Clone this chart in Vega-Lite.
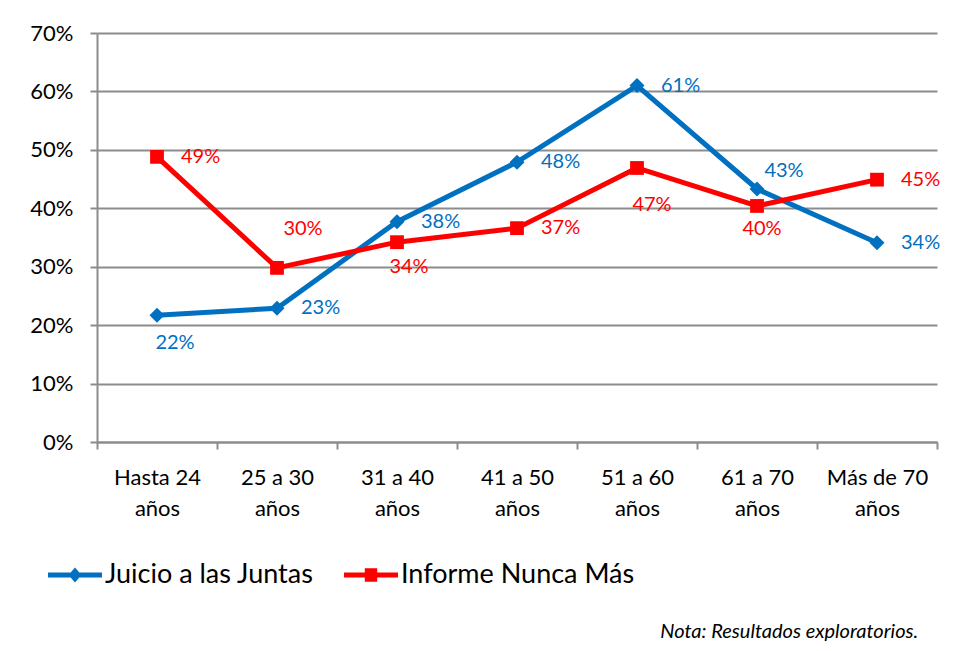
{
  "$schema": "https://vega.github.io/schema/vega-lite/v6.json",
  "width": 840,
  "height": 409,
  "autosize": "none",
  "padding": {"left": 97, "top": 33, "right": 22, "bottom": 209},
  "background": "white",
  "config": {
    "font": "Lato",
    "view": {"stroke": null},
    "legend": {
      "orient": "none",
      "legendX": -49,
      "legendY": 515,
      "direction": "horizontal",
      "labelFontSize": 27,
      "labelColor": "black",
      "labelFont": "Lato",
      "labelLimit": 500,
      "symbolSize": 2916,
      "symbolStrokeWidth": 0,
      "columnPadding": 30,
      "labelOffset": 3,
      "title": null
    }
  },
  "title": {
    "text": "Nota: Resultados exploratorios.",
    "orient": "bottom",
    "anchor": "end",
    "fontSize": 20,
    "fontStyle": "italic",
    "fontWeight": "normal",
    "color": "black",
    "offset": 34,
    "dx": -22
  },
  "data": {
    "values": [
      {"grupo": "Hasta 24 años", "serie": "Juicio a las Juntas", "valor": 0.217},
      {"grupo": "25 a 30 años", "serie": "Juicio a las Juntas", "valor": 0.229},
      {"grupo": "31 a 40 años", "serie": "Juicio a las Juntas", "valor": 0.377},
      {"grupo": "41 a 50 años", "serie": "Juicio a las Juntas", "valor": 0.479},
      {"grupo": "51 a 60 años", "serie": "Juicio a las Juntas", "valor": 0.61},
      {"grupo": "61 a 70 años", "serie": "Juicio a las Juntas", "valor": 0.433},
      {"grupo": "Más de 70 años", "serie": "Juicio a las Juntas", "valor": 0.341},
      {"grupo": "Hasta 24 años", "serie": "Informe Nunca Más", "valor": 0.488},
      {"grupo": "25 a 30 años", "serie": "Informe Nunca Más", "valor": 0.298},
      {"grupo": "31 a 40 años", "serie": "Informe Nunca Más", "valor": 0.342},
      {"grupo": "41 a 50 años", "serie": "Informe Nunca Más", "valor": 0.366},
      {"grupo": "51 a 60 años", "serie": "Informe Nunca Más", "valor": 0.469},
      {"grupo": "61 a 70 años", "serie": "Informe Nunca Más", "valor": 0.404},
      {"grupo": "Más de 70 años", "serie": "Informe Nunca Más", "valor": 0.449}
    ]
  },
  "encoding": {
    "x": {
      "field": "grupo",
      "type": "ordinal",
      "sort": ["Hasta 24 años", "25 a 30 años", "31 a 40 años", "41 a 50 años", "51 a 60 años", "61 a 70 años", "Más de 70 años"],
      "scale": {"type": "band", "paddingInner": 0, "paddingOuter": 0},
      "axis": {
        "title": null,
        "labelAngle": 0,
        "tickBand": "extent",
        "domainColor": "#8c8c8c",
        "domainWidth": 2,
        "tickColor": "#8c8c8c",
        "tickWidth": 2,
        "tickSize": 7,
        "labelFontSize": 22,
        "labelColor": "black",
        "labelPadding": 18,
        "labelLineHeight": 31,
        "labelExpr": "indexof(datum.label, ' ') < 0 ? '' : [slice(datum.label, 0, lastindexof(datum.label, ' ')), 'años']",
        "grid": false
      }
    },
    "y": {
      "field": "valor",
      "type": "quantitative",
      "scale": {"domain": [0, 0.7]},
      "axis": {
        "title": null,
        "format": ".0%",
        "values": [0, 0.1, 0.2, 0.3, 0.4, 0.5, 0.6, 0.7],
        "grid": true,
        "gridColor": "#8c8c8c",
        "gridWidth": 2,
        "domainColor": "#8c8c8c",
        "domainWidth": 2,
        "tickColor": "#8c8c8c",
        "tickWidth": 2,
        "tickSize": 7,
        "labelFontSize": 22,
        "labelColor": "black",
        "labelPadding": 17
      }
    }
  },
  "layer": [
    {
      "transform": [{"filter": "datum.serie == 'Juicio a las Juntas'"}],
      "mark": {"type": "line", "strokeWidth": 5, "color": "#0070C0"}
    },
    {
      "transform": [{"filter": "datum.serie == 'Informe Nunca Más'"}],
      "mark": {"type": "line", "strokeWidth": 5, "color": "#FF0000"}
    },
    {
      "transform": [{"filter": "datum.serie == 'Juicio a las Juntas'"}],
      "mark": {"type": "point", "shape": "diamond", "filled": true, "size": 225, "color": "#0070C0", "opacity": 1}
    },
    {
      "transform": [{"filter": "datum.serie == 'Informe Nunca Más'"}],
      "mark": {"type": "point", "shape": "square", "filled": true, "size": 190, "color": "#FF0000", "opacity": 1}
    },
    {
      "transform": [{"filter": "false"}],
      "mark": {"type": "point", "filled": true, "opacity": 1, "strokeWidth": 0},
      "encoding": {
        "color": {
          "field": "serie",
          "type": "nominal",
          "scale": {"domain": ["Juicio a las Juntas", "Informe Nunca Más"], "range": ["#0070C0", "#FF0000"]}
        },
        "shape": {
          "field": "serie",
          "type": "nominal",
          "scale": {
            "domain": ["Juicio a las Juntas", "Informe Nunca Más"],
            "range": [
              "M-1,-0.095L1,-0.095L1,0.095L-1,0.095Z M0,-0.28L0.24,0L0,0.28L-0.24,0Z",
              "M-1,-0.095L1,-0.095L1,0.095L-1,0.095Z M-0.23,-0.25L0.23,-0.25L0.23,0.25L-0.23,0.25Z"
            ]
          }
        }
      }
    },
    {
      "transform": [{"filter": "(datum.serie == 'Juicio a las Juntas' && indexof(['25 a 30 años','31 a 40 años','41 a 50 años','51 a 60 años','Más de 70 años'], datum.grupo) >= 0) || (datum.serie == 'Informe Nunca Más' && indexof(['Hasta 24 años','41 a 50 años','Más de 70 años'], datum.grupo) >= 0)"}],
      "mark": {"type": "text", "align": "left", "baseline": "middle", "dx": 24, "fontSize": 20},
      "encoding": {
        "text": {"field": "valor", "type": "quantitative", "format": ".0%"},
        "color": {"condition": {"test": "datum.serie == 'Juicio a las Juntas'", "value": "#0070C0"}, "value": "#FF0000"}
      }
    },
    {
      "transform": [{"filter": "datum.serie == 'Juicio a las Juntas' && datum.grupo == 'Hasta 24 años'"}],
      "mark": {"type": "text", "align": "center", "baseline": "middle", "dx": 18, "dy": 28, "fontSize": 20, "color": "#0070C0"},
      "encoding": {"text": {"field": "valor", "type": "quantitative", "format": ".0%"}}
    },
    {
      "transform": [{"filter": "datum.serie == 'Juicio a las Juntas' && datum.grupo == '61 a 70 años'"}],
      "mark": {"type": "text", "align": "center", "baseline": "middle", "dx": 27, "dy": -18, "fontSize": 20, "color": "#0070C0"},
      "encoding": {"text": {"field": "valor", "type": "quantitative", "format": ".0%"}}
    },
    {
      "transform": [{"filter": "datum.serie == 'Informe Nunca Más' && datum.grupo == '25 a 30 años'"}],
      "mark": {"type": "text", "align": "center", "baseline": "middle", "dx": 26, "dy": -39, "fontSize": 20, "color": "#FF0000"},
      "encoding": {"text": {"field": "valor", "type": "quantitative", "format": ".0%"}}
    },
    {
      "transform": [{"filter": "datum.serie == 'Informe Nunca Más' && datum.grupo == '31 a 40 años'"}],
      "mark": {"type": "text", "align": "center", "baseline": "middle", "dx": 12, "dy": 25, "fontSize": 20, "color": "#FF0000"},
      "encoding": {"text": {"field": "valor", "type": "quantitative", "format": ".0%"}}
    },
    {
      "transform": [{"filter": "datum.serie == 'Informe Nunca Más' && datum.grupo == '51 a 60 años'"}],
      "mark": {"type": "text", "align": "center", "baseline": "middle", "dx": 15, "dy": 37, "fontSize": 20, "color": "#FF0000"},
      "encoding": {"text": {"field": "valor", "type": "quantitative", "format": ".0%"}}
    },
    {
      "transform": [{"filter": "datum.serie == 'Informe Nunca Más' && datum.grupo == '61 a 70 años'"}],
      "mark": {"type": "text", "align": "center", "baseline": "middle", "dx": 5, "dy": 23, "fontSize": 20, "color": "#FF0000"},
      "encoding": {"text": {"field": "valor", "type": "quantitative", "format": ".0%"}}
    }
  ]
}
